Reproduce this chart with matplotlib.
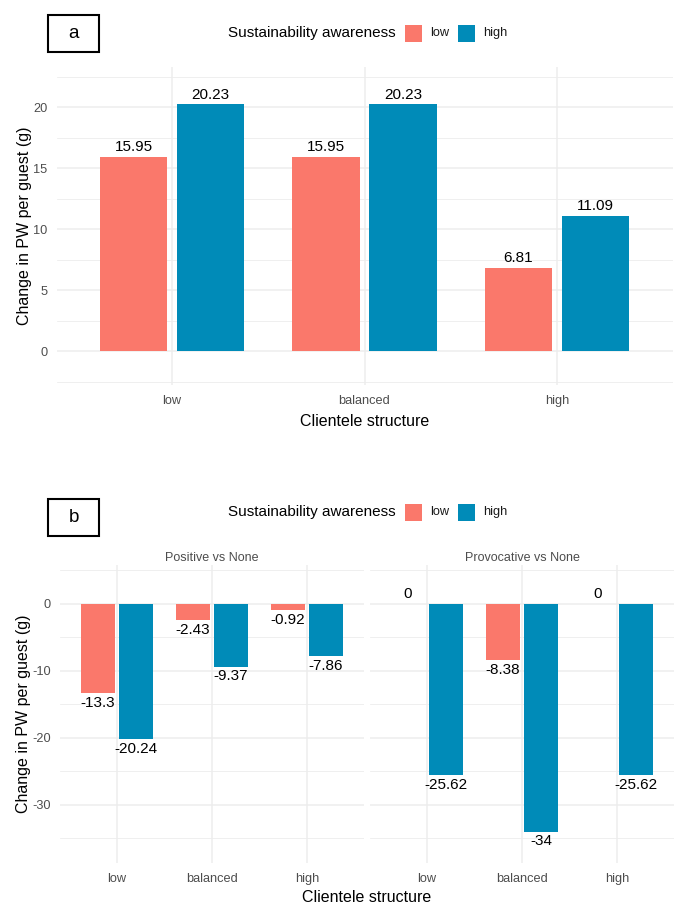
import matplotlib.pyplot as plt
import numpy as np
from matplotlib.patches import Rectangle

plt.rcParams['font.family'] = ['Liberation Sans', 'DejaVu Sans']
plt.rcParams['axes.unicode_minus'] = False

# clientele structure groups
categories = ["low", "balanced", "high"]

# panel a: change in PW per guest
a_low = [15.95, 15.95, 6.81]
a_high = [20.23, 20.23, 11.09]

# panel b: nudge comparisons
pos_low = [-13.3, -2.43, -0.92]
pos_high = [-20.24, -9.37, -7.86]
prov_low = [0, -8.38, 0]
prov_high = [-25.62, -34, -25.62]

RED = '#FA786B'
BLUE = '#008BB8'
GRID = '#EDEDED'
TICK = '#4D4D4D'

W, H = 678, 907
fig = plt.figure(figsize=(W / 100, H / 100), dpi=100)


def box(l, t, r, b):
    # pixel box -> figure fraction rect
    return [l / W, 1 - b / H, (r - l) / W, (b - t) / H]


def style(ax, ylim, major, minor):
    x = np.arange(1, len(categories) + 1)
    ax.set_xlim(0.4, len(categories) + 0.6)
    ax.set_ylim(*ylim)
    ax.set_xticks(x)
    ax.set_xticklabels(categories)
    ax.set_yticks(major)
    ax.set_yticks(minor, minor=True)
    ax.grid(True, which='major', color=GRID, lw=1.1)
    ax.grid(True, which='minor', color=GRID, lw=0.6)
    ax.set_axisbelow(True)
    for s in ax.spines.values():
        s.set_visible(False)
    ax.tick_params(which='both', length=0)
    ax.tick_params(axis='x', pad=7, labelsize=9.2, labelcolor=TICK)
    ax.tick_params(axis='y', pad=6.5, labelsize=9.2, labelcolor=TICK)


def bars(ax, low, high):
    x = np.arange(1, len(categories) + 1)
    for off, vals, col in ((-0.2, low, RED), (0.2, high, BLUE)):
        ax.bar(x + off, vals, width=0.35, color=col, linewidth=0)
        for xi, v in zip(x + off, vals):
            dy = -7 if v < 0 else 7
            ax.annotate(f"{v:g}", (xi, v), xytext=(0, dy), textcoords='offset points',
                        ha='center', va='center', fontsize=11, color='black')


def legend(y):
    fig.text(396 / W, 1 - y / H, "Sustainability awareness", ha='right', va='center',
             fontsize=11, color='black')
    for x0, col, lab in ((405, RED, "low"), (458, BLUE, "high")):
        fig.patches.append(Rectangle((x0 / W, 1 - (y + 8.5) / H), 17 / W, 17 / H,
                                     transform=fig.transFigure, facecolor=col,
                                     edgecolor='none'))
        fig.text((x0 + 25) / W, 1 - y / H, lab, ha='left', va='center',
                 fontsize=9.2, color='#1A1A1A')


def tag(label, t, b):
    fig.patches.append(Rectangle((48 / W, 1 - b / H), 51 / W, (b - t) / H,
                                 transform=fig.transFigure, facecolor='white',
                                 edgecolor='black', lw=1.5))
    fig.text(73.5 / W, 1 - (t + b) / 2 / H, label, ha='center', va='center', fontsize=13.5)


# ---- panel a ----
ax_a = fig.add_axes(box(56.5, 67, 672.5, 385))
style(ax_a, (-2.78, 23.3), [0, 5, 10, 15, 20], [-2.5, 2.5, 7.5, 12.5, 17.5, 22.5])
bars(ax_a, a_low, a_high)
ax_a.set_xlabel("Clientele structure", fontsize=11.5, labelpad=5)
ax_a.set_ylabel("Change in PW per guest (g)", fontsize=11.5, labelpad=1)
tag("a", 15, 52)
legend(33)

# ---- panel b ----
ylim_b = (-38.7, 5.8)
major_b = [-30, -20, -10, 0]
minor_b = [-35, -25, -15, -5, 5]
ax_b1 = fig.add_axes(box(60, 565, 364, 863))
ax_b2 = fig.add_axes(box(370, 565, 674, 863))
style(ax_b1, ylim_b, major_b, minor_b)
style(ax_b2, ylim_b, major_b, minor_b)
ax_b2.set_yticklabels([])
bars(ax_b1, pos_low, pos_high)
bars(ax_b2, prov_low, prov_high)
ax_b1.set_ylabel("Change in PW per guest (g)", fontsize=11.5, labelpad=1)
fig.text(367 / W, 1 - 897 / H, "Clientele structure", ha='center', va='center', fontsize=11.5)
for ax, title in ((ax_b1, "Positive vs None"), (ax_b2, "Provocative vs None")):
    ax.set_title(title, fontsize=9, color=TICK, pad=3)
tag("b", 499, 536)
legend(512)

fig.savefig("out.png", dpi=100, facecolor='white')
